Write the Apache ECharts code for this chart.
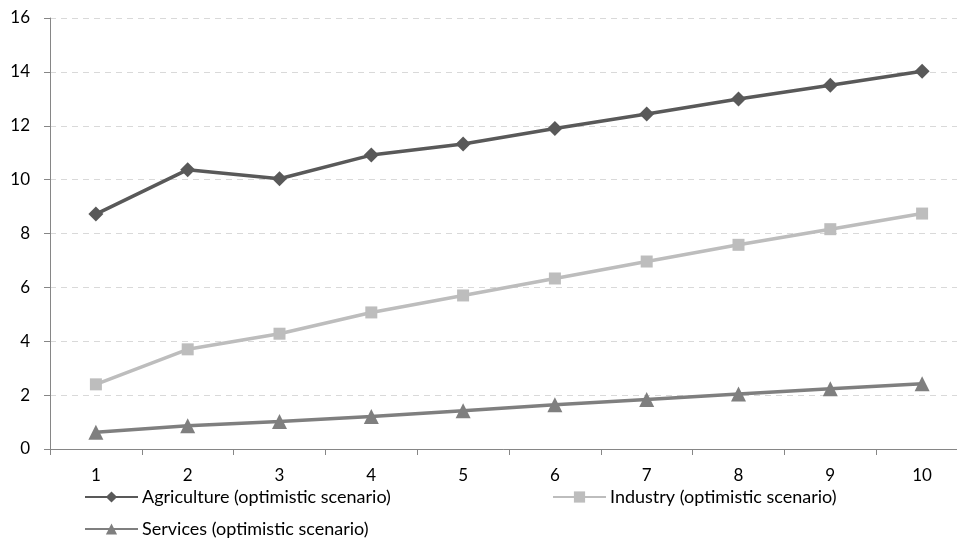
<!DOCTYPE html>
<html>
<head>
<meta charset="utf-8">
<style>html,body{margin:0;padding:0;background:#fff}#chart{width:957px;height:540px}</style>
<script src="https://cdn.jsdelivr.net/npm/echarts@6/dist/echarts.min.js"></script>
</head>
<body>
<div id="chart"></div>
<script>
const categories = ['1', '2', '3', '4', '5', '6', '7', '8', '9', '10'];
const agriculture = [8.72, 10.37, 10.03, 10.91, 11.32, 11.9, 12.44, 12.99, 13.5, 14.02];
const industry = [2.4, 3.7, 4.28, 5.07, 5.7, 6.33, 6.96, 7.58, 8.16, 8.74];
const services = [0.62, 0.86, 1.02, 1.21, 1.42, 1.64, 1.84, 2.04, 2.24, 2.42];
const yTicks = { min: 0, max: 16, interval: 2 };

const names = ['Agriculture (optimistic scenario)', 'Industry (optimistic scenario)', 'Services (optimistic scenario)'];
const font = 'Lato, "Open Sans", sans-serif';

const chart = echarts.init(document.getElementById('chart'), null, { renderer: 'canvas' });

function legend(name, left, top) {
  return {
    data: [name], left: left, top: top, itemWidth: 53, itemHeight: 14, itemGap: 4,
    textStyle: { fontFamily: font, fontSize: 18, color: '#000', padding: [0, 0, 0, -1] },
    padding: 0
  };
}

function line(name, data, color, symbol, size) {
  return {
    name: name, type: 'line', data: data, symbol: symbol, symbolSize: size,
    lineStyle: { color: color, width: 3.5 }, itemStyle: { color: color },
    emphasis: { disabled: true }, animation: false
  };
}

chart.setOption({
  animation: false,
  grid: { left: 50, top: 18, width: 918, height: 431, containLabel: false, outerBoundsMode: 'none' },
  legend: [
    legend(names[0], 84, 488),
    legend(names[1], 552, 488),
    legend(names[2], 84, 520)
  ],
  xAxis: {
    type: 'category', data: categories, boundaryGap: true,
    axisLine: { lineStyle: { color: '#868686', width: 1 } },
    axisTick: { show: true, length: 6, lineStyle: { color: '#868686' } },
    axisLabel: { fontFamily: font, fontSize: 17, color: '#000', margin: 18 }
  },
  yAxis: {
    type: 'value', min: yTicks.min, max: yTicks.max, interval: yTicks.interval,
    axisLine: { show: true, lineStyle: { color: '#868686', width: 1 } },
    axisTick: { show: true, length: 6, lineStyle: { color: '#868686' } },
    axisLabel: { fontFamily: font, fontSize: 17, color: '#000', margin: 20 },
    splitLine: { lineStyle: { color: '#d9d9d9', type: [6, 5] } }
  },
  series: [
    line(names[0], agriculture, '#595959', 'diamond', 15),
    line(names[1], industry, '#bdbdbd', 'rect', 12),
    line(names[2], services, '#7f7f7f', 'triangle', 15)
  ]
});
</script>
</body>
</html>
